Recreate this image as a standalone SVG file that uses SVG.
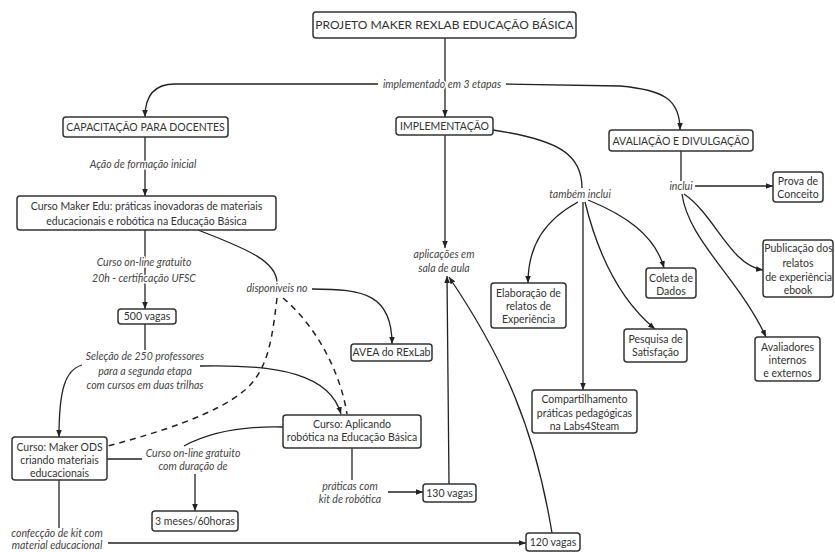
<svg xmlns="http://www.w3.org/2000/svg" width="835" height="552" viewBox="0 0 835 552">
<defs>
<marker id="ah" viewBox="0 0 10 10" refX="10" refY="5" markerWidth="7" markerHeight="7" markerUnits="userSpaceOnUse" orient="auto"><path d="M0,1 L10,5 L0,9 z" fill="#222"/></marker>
<style>
.box{fill:#fff;stroke:#333;stroke-width:1.5}
.nt{font-family:Lato,"Liberation Sans",sans-serif;font-size:10.5px;fill:#333;text-anchor:middle}
.lb{font-family:Lato,"Liberation Sans",sans-serif;font-size:10.5px;font-style:italic;fill:#444;text-anchor:middle;paint-order:stroke;stroke:#fff;stroke-width:3px;stroke-linejoin:round}
.cn{fill:none;stroke:#222;stroke-width:1.3}
.ar{marker-end:url(#ah)}
.dash{stroke-dasharray:6 5;stroke-width:1.5}
</style>
</defs>
<rect width="835" height="552" fill="#fff"/>
<g id="connectors">
<path class="cn ar" d="M445,38 V117"/>
<path class="cn ar" d="M378,84 L175,84 C155,84 145,95 145,117"/>
<path class="cn ar" d="M506,84 L620,86 C665,90 680,100 680,130"/>
<path class="cn ar" d="M145,137 V196"/>
<path class="cn ar" d="M145,230 V309"/>
<path class="cn" d="M145,324 V350"/>
<path class="cn ar" d="M82,365 C65,370 59,390 59,437"/>
<path class="cn ar" d="M200,366 C280,364 330,375 341,414"/>
<path class="cn" d="M198,230 C250,250 277,262 277,283"/>
<path class="cn ar" d="M312,289 C365,289 392,295 392,344"/>
<path class="cn dash" d="M277,298 C272,340 268,370 245,390 C215,415 160,432 108,446"/>
<path class="cn dash" d="M283,298 C315,325 340,370 347,414"/>
<path class="cn" d="M107,459 H142"/>
<path class="cn" d="M283,427 C245,426 210,432 184,446"/>
<path class="cn ar" d="M195,474 V511"/>
<path class="cn" d="M352,448 V480"/>
<path class="cn ar" d="M388,492 H423"/>
<path class="cn ar" d="M449,484 L447,276"/>
<path class="cn ar" d="M552,533 C535,430 505,360 449,277"/>
<path class="cn" d="M59,480 V528"/>
<path class="cn ar" d="M108,543 H526"/>
<path class="cn ar" d="M445,135 V248"/>
<path class="cn" d="M493,130 C560,140 582,155 582,188"/>
<path class="cn ar" d="M578,202 C545,220 528,245 528,283"/>
<path class="cn ar" d="M583,202 V390"/>
<path class="cn ar" d="M585,202 C598,255 620,300 655,329"/>
<path class="cn ar" d="M588,200 C625,215 655,235 664,268"/>
<path class="cn" d="M681,151 V181"/>
<path class="cn ar" d="M695,186 H773"/>
<path class="cn ar" d="M684,194 C715,215 730,265 763,270"/>
<path class="cn ar" d="M682,194 C688,240 740,280 766,337"/>
</g>
<g id="labels">
<text class="lb" x="442" y="88">implementado em 3 etapas</text>
<text class="lb" x="143" y="168">Ação de formação inicial</text>
<text class="lb" x="144" y="266">Curso on-line gratuito</text>
<text class="lb" x="144" y="282">20h - certificação UFSC</text>
<text class="lb" x="277" y="292">disponiveis no</text>
<text class="lb" x="145" y="360">Seleção de 250 professores</text>
<text class="lb" x="145" y="375">para a segunda etapa</text>
<text class="lb" x="145" y="389">com cursos em duas trilhas</text>
<text class="lb" x="193" y="457">Curso on-line gratuito</text>
<text class="lb" x="193" y="470">com duração de</text>
<text class="lb" x="350" y="490">práticas com</text>
<text class="lb" x="350" y="503">kit de robótica</text>
<text class="lb" x="57" y="537">confecção de kit com</text>
<text class="lb" x="57" y="549">material educacional</text>
<text class="lb" x="444" y="258">aplicações em</text>
<text class="lb" x="444" y="272">sala de aula</text>
<text class="lb" x="580" y="198">também inclui</text>
<text class="lb" x="681" y="190">inclui</text>
</g>
<g id="n-projeto"><rect class="box" x="313" y="12" width="263" height="26" rx="3"/><text class="nt" x="444.5" y="29" style="font-size:12px">PROJETO MAKER REXLAB EDUCAÇÃO BÁSICA</text></g>
<g id="n-capacitacao"><rect class="box" x="63" y="117" width="165" height="20" rx="3"/><text class="nt" x="145.5" y="131">CAPACITAÇÃO PARA DOCENTES</text></g>
<g id="n-implementacao"><rect class="box" x="396" y="117" width="97" height="18" rx="3"/><text class="nt" x="444.5" y="130">IMPLEMENTAÇÃO</text></g>
<g id="n-avaliacao"><rect class="box" x="609" y="130" width="144" height="21" rx="3"/><text class="nt" x="681" y="145">AVALIAÇÃO E DIVULGAÇÃO</text></g>
<g id="n-makeredu"><rect class="box" x="17" y="196" width="259" height="34" rx="3"/><text class="nt" x="146.5" y="210">Curso Maker Edu: práticas inovadoras de materiais</text><text class="nt" x="146.5" y="225">educacionais e robótica na Educação Básica</text></g>
<g id="n-500"><rect class="box" x="118" y="309" width="58" height="15" rx="3"/><text class="nt" x="147" y="320">500 vagas</text></g>
<g id="n-avea"><rect class="box" x="351" y="344" width="81" height="17" rx="3"/><text class="nt" x="391.5" y="356">AVEA do RExLab</text></g>
<g id="n-makerods"><rect class="box" x="12" y="437" width="95" height="43" rx="3"/><text class="nt" x="59.5" y="451">Curso: Maker ODS</text><text class="nt" x="59.5" y="464">criando materiais</text><text class="nt" x="59.5" y="477">educacionais</text></g>
<g id="n-aplicando"><rect class="box" x="283" y="415" width="138" height="33" rx="3"/><text class="nt" x="352" y="428">Curso: Aplicando</text><text class="nt" x="352" y="441">robótica na Educação Básica</text></g>
<g id="n-3meses"><rect class="box" x="152" y="511" width="86" height="20" rx="3"/><text class="nt" x="195" y="525">3 meses/60horas</text></g>
<g id="n-130"><rect class="box" x="423" y="484" width="53" height="18" rx="3"/><text class="nt" x="449.5" y="497">130 vagas</text></g>
<g id="n-120"><rect class="box" x="526" y="533" width="54" height="18" rx="3"/><text class="nt" x="553" y="546">120 vagas</text></g>
<g id="n-elaboracao"><rect class="box" x="491" y="283" width="75" height="45" rx="3"/><text class="nt" x="528.5" y="297">Elaboração de</text><text class="nt" x="528.5" y="310">relatos de</text><text class="nt" x="528.5" y="323">Experiência</text></g>
<g id="n-compartilhamento"><rect class="box" x="532" y="390" width="105" height="43" rx="3"/><text class="nt" x="584.5" y="403">Compartilhamento</text><text class="nt" x="584.5" y="417">práticas pedagógicas</text><text class="nt" x="584.5" y="430">na Labs4Steam</text></g>
<g id="n-pesquisa"><rect class="box" x="624" y="329" width="63" height="33" rx="3"/><text class="nt" x="655.5" y="343">Pesquisa de</text><text class="nt" x="655.5" y="356">Satisfação</text></g>
<g id="n-coleta"><rect class="box" x="646" y="268" width="50" height="30" rx="3"/><text class="nt" x="671" y="282">Coleta de</text><text class="nt" x="671" y="295">Dados</text></g>
<g id="n-prova"><rect class="box" x="773" y="172" width="50" height="30" rx="3"/><text class="nt" x="798" y="185">Prova de</text><text class="nt" x="798" y="198">Conceito</text></g>
<g id="n-publicacao"><rect class="box" x="763" y="240" width="70" height="57" rx="3"/><text class="nt" x="798.5" y="252">Publicação dos</text><text class="nt" x="798" y="267">relatos</text><text class="nt" x="798.5" y="281">de experiência</text><text class="nt" x="798" y="294">ebook</text></g>
<g id="n-avaliadores"><rect class="box" x="755" y="337" width="65" height="44" rx="3"/><text class="nt" x="787.5" y="351">Avaliadores</text><text class="nt" x="787.5" y="364">internos</text><text class="nt" x="787.5" y="377">e externos</text></g>
</svg>
